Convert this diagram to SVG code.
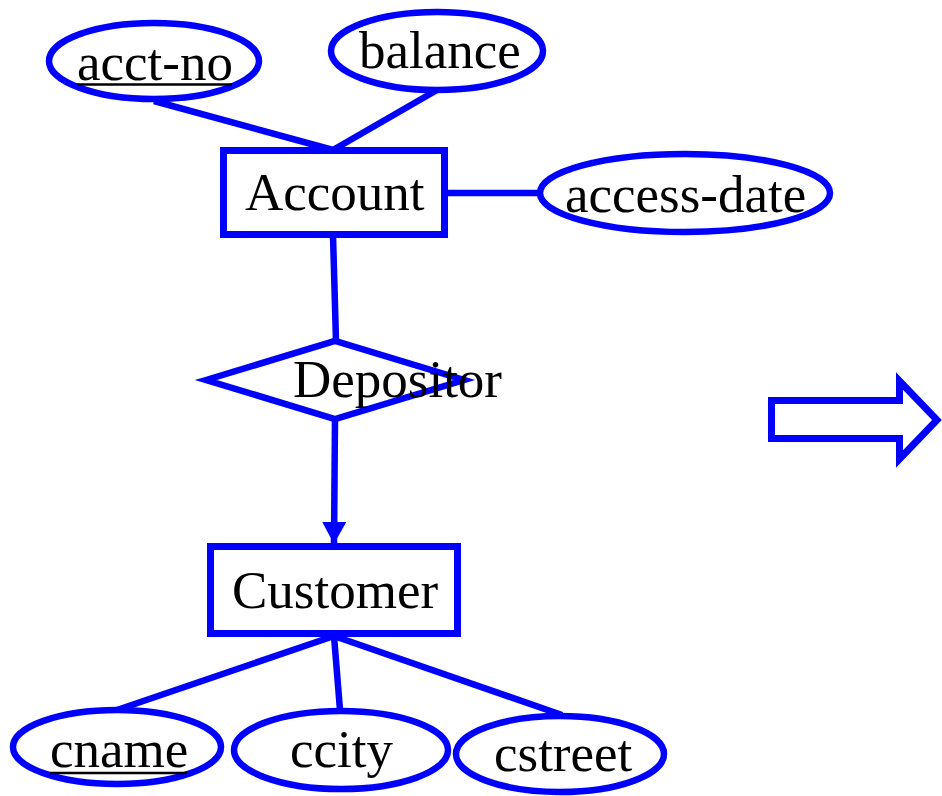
<svg xmlns="http://www.w3.org/2000/svg" width="942" height="796" viewBox="0 0 942 796">
<style>
.shape{fill:#fff;stroke:#0000ff;stroke-width:6.5}
.box{fill:#fff;stroke:#0000ff;stroke-width:7}
.ln{stroke:#0000ff;stroke-width:6.5;fill:none}
.ul{stroke:#000;stroke-width:2.5}
text{font-family:"Liberation Serif","Times New Roman",serif;font-size:53px;fill:#000}
</style>
<defs>
<marker id="ah" markerUnits="userSpaceOnUse" markerWidth="24" markerHeight="24" refX="22" refY="12" orient="auto">
<path d="M0,0 L22,12 L0,24 Z" fill="#0000ff"/>
</marker>
</defs>
<g id="connectors">
<line class="ln" x1="154" y1="101" x2="333" y2="150"/>
<line class="ln" x1="437" y1="90" x2="333" y2="150"/>
<line class="ln" x1="444" y1="193" x2="540" y2="193"/>
<line class="ln" x1="333" y1="235" x2="336" y2="341"/>
<line class="ln" x1="335" y1="419" x2="334" y2="544" marker-end="url(#ah)"/>
<line class="ln" x1="334" y1="636" x2="117" y2="710"/>
<line class="ln" x1="334" y1="636" x2="340" y2="710"/>
<line class="ln" x1="334" y1="636" x2="562" y2="715"/>
</g>
<g id="acct-no">
<ellipse class="shape" cx="154" cy="61" rx="105" ry="38"/>
<text x="77" y="80">acct-no</text>
<line class="ul" x1="77" y1="84.5" x2="232" y2="84.5"/>
</g>
<g id="balance">
<ellipse class="shape" cx="437" cy="51" rx="106" ry="39"/>
<text x="359" y="68">balance</text>
</g>
<g id="account">
<rect class="box" x="223.5" y="150.5" width="221" height="84"/>
<text x="245" y="210">Account</text>
</g>
<g id="access-date">
<ellipse class="shape" cx="685" cy="193" rx="145" ry="39"/>
<text x="565" y="212">access-date</text>
</g>
<g id="depositor">
<polygon class="shape" points="206,380 335,341 464,380 335,419"/>
<text x="293" y="397">Depositor</text>
</g>
<g id="customer">
<rect class="box" x="210.5" y="546.5" width="247" height="87"/>
<text x="232" y="608">Customer</text>
</g>
<g id="cname">
<ellipse class="shape" cx="117" cy="747" rx="104" ry="37"/>
<text x="50" y="767">cname</text>
<line class="ul" x1="50" y1="773" x2="187" y2="773"/>
</g>
<g id="ccity">
<ellipse class="shape" cx="341" cy="750" rx="107" ry="39"/>
<text x="290" y="767">ccity</text>
</g>
<g id="cstreet">
<ellipse class="shape" cx="560" cy="754" rx="104" ry="38"/>
<text x="494" y="771">cstreet</text>
</g>
<g id="block-arrow">
<polygon class="box" points="771.5,400.5 899.5,400.5 899.5,381 937,420 899.5,459 899.5,438.5 771.5,438.5"/>
</g>
</svg>
